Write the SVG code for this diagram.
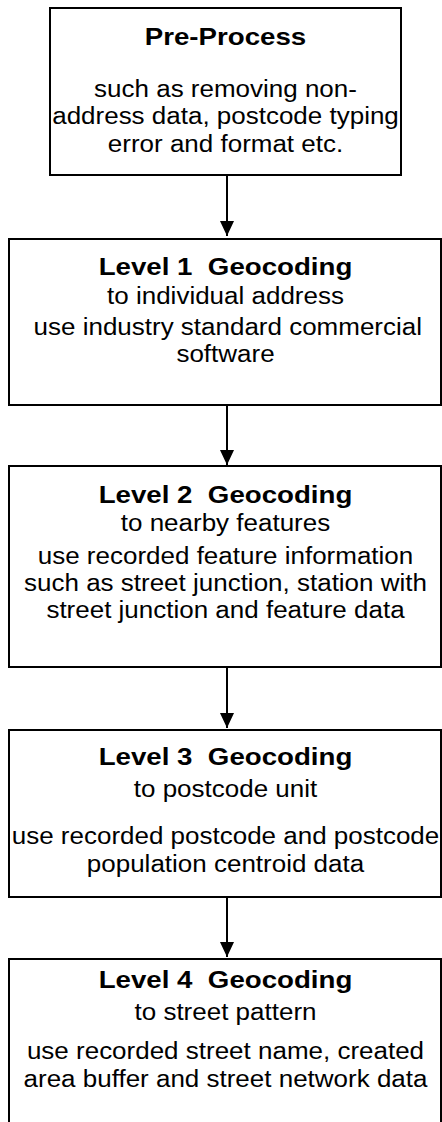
<svg xmlns="http://www.w3.org/2000/svg" width="442" height="1122" viewBox="0 0 442 1122">
<style>
.box{fill:#fff;stroke:#000;stroke-width:2}
.t{font-family:"Liberation Sans",Arial,sans-serif;font-size:24.5px;font-weight:bold;fill:#000;text-anchor:middle;white-space:pre}
.b{font-family:"Liberation Sans",Arial,sans-serif;font-size:23px;fill:#000;text-anchor:middle;white-space:pre}
.c{stroke:#000;stroke-width:2;fill:none}
</style>
<defs>
<marker id="ah" markerUnits="userSpaceOnUse" markerWidth="15" markerHeight="14" refX="15" refY="7" orient="auto">
<path d="M0,0 L15,7 L0,14 z" fill="#000"/>
</marker>
</defs>
<rect width="442" height="1122" fill="#fff"/>
<g id="connectors">
<line class="c" x1="227" y1="176" x2="227" y2="236" marker-end="url(#ah)"/>
<line class="c" x1="227" y1="406" x2="227" y2="465" marker-end="url(#ah)"/>
<line class="c" x1="227" y1="668" x2="227" y2="728" marker-end="url(#ah)"/>
<line class="c" x1="227" y1="898" x2="227" y2="957" marker-end="url(#ah)"/>
</g>
<g id="preprocess">
<rect class="box" x="50" y="8" width="351" height="167"/>
<g transform="translate(225.5 0) scale(1.13 1)">
<text class="t" x="0" y="45">Pre-Process</text>
<text class="b" x="0" y="97">such as removing non-</text>
<text class="b" x="0" y="124">address data, postcode typing</text>
<text class="b" x="0" y="152">error and format etc.</text>
</g>
</g>
<g id="level1">
<rect class="box" x="9" y="239" width="432" height="166"/>
<g transform="translate(225.5 0) scale(1.13 1)">
<text class="t" x="0" y="275">Level 1  Geocoding</text>
<text class="b" x="0" y="304">to individual address</text>
<text class="b" x="2" y="335">use industry standard commercial</text>
<text class="b" x="0" y="362">software</text>
</g>
</g>
<g id="level2">
<rect class="box" x="9" y="466" width="432" height="201"/>
<g transform="translate(225.5 0) scale(1.13 1)">
<text class="t" x="0" y="503">Level 2  Geocoding</text>
<text class="b" x="0" y="531">to nearby features</text>
<text class="b" x="0" y="564">use recorded feature information</text>
<text class="b" x="0" y="591">such as street junction, station with</text>
<text class="b" x="0" y="618">street junction and feature data</text>
</g>
</g>
<g id="level3">
<rect class="box" x="9" y="730" width="432" height="167"/>
<g transform="translate(225.5 0) scale(1.13 1)">
<text class="t" x="0" y="765">Level 3  Geocoding</text>
<text class="b" x="0" y="797">to postcode unit</text>
<text class="b" x="0" y="844">use recorded postcode and postcode</text>
<text class="b" x="0" y="872">population centroid data</text>
</g>
</g>
<g id="level4">
<rect class="box" x="9" y="959" width="432" height="200"/>
<g transform="translate(225.5 0) scale(1.13 1)">
<text class="t" x="0" y="988">Level 4  Geocoding</text>
<text class="b" x="0" y="1020">to street pattern</text>
<text class="b" x="0" y="1059">use recorded street name, created</text>
<text class="b" x="0" y="1087">area buffer and street network data</text>
</g>
</g>
</svg>
